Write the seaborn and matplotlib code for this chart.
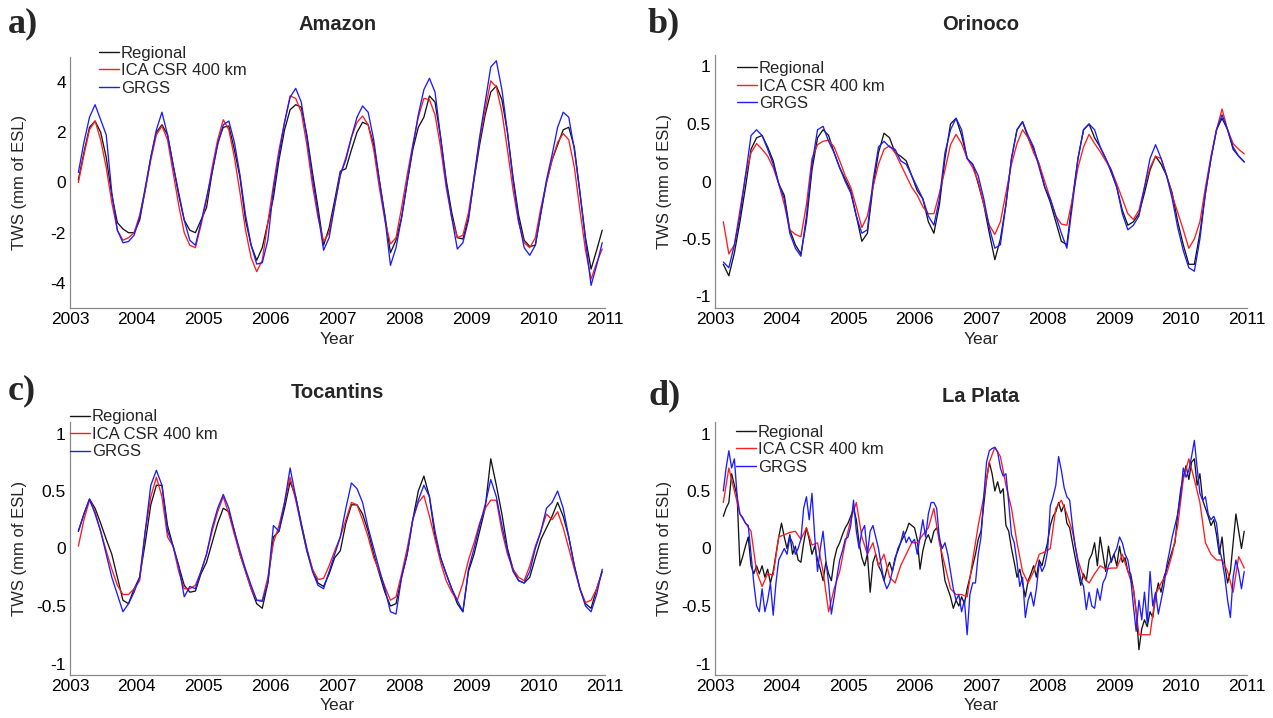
import numpy as np
import pandas as pd
import matplotlib
matplotlib.use("Agg")
import matplotlib.pyplot as plt
import seaborn as sns

# ---------------- data (monthly: Feb 2003 .. Dec 2010) ----------------
amazon_regional = [
    0.1, 1.2, 2.2, 2.45, 2.0, 1.0, -0.5, -1.6, -1.85, -2.0, -2.0,
    -1.5, -0.3, 1.0, 2.0, 2.3, 1.9, 0.7, -0.5, -1.5, -1.9, -2.0, -1.5,
    -1.0, 0.4, 1.6, 2.2, 2.25, 1.3, 0.2, -1.5, -2.5, -3.1, -2.6, -1.6,
    -0.6, 0.9, 2.1, 2.9, 3.1, 3.0, 1.9, 0.4, -1.0, -2.5, -1.8, -0.7,
    0.45, 0.55, 1.3, 2.0, 2.4, 2.3, 1.5, 0.1, -1.3, -2.8, -2.3, -1.4,
    0.0, 1.3, 2.2, 2.6, 3.45, 3.2, 1.8, 0.1, -1.2, -2.2, -2.25, -1.4,
    0.1, 1.5, 2.7, 3.6, 3.85, 3.3, 2.0, 0.2, -1.3, -2.3, -2.55, -2.5,
    -1.2, 0.0, 0.9, 1.5, 2.1, 2.2, 1.4, -0.4, -2.2, -3.45, -2.7, -1.9]
amazon_ica = [
    0.0, 1.1, 2.1, 2.45, 1.7, 0.6, -0.8, -1.9, -2.3, -2.2, -2.0,
    -1.3, -0.3, 0.9, 1.9, 2.25, 1.7, 0.4, -0.9, -2.0, -2.5, -2.6, -1.7,
    -0.7, 0.6, 1.7, 2.5, 2.1, 1.0, -0.4, -1.9, -3.0, -3.55, -3.1, -1.6,
    -0.1, 1.3, 2.4, 3.45, 3.35, 2.8, 1.5, -0.1, -1.4, -2.35, -2.0, -0.9,
    0.3, 1.0, 1.8, 2.4, 2.65, 2.3, 1.3, -0.2, -1.5, -2.45, -2.2, -1.0,
    0.3, 1.5, 2.6, 3.35, 3.3, 2.7, 1.4, -0.2, -1.4, -2.2, -2.1, -1.2,
    0.2, 1.7, 2.9, 4.05, 3.8, 2.8, 1.3, -0.3, -1.6, -2.4, -2.6, -2.2,
    -1.0, 0.0, 0.9, 1.6, 1.95, 1.7, 0.6, -1.1, -2.7, -3.85, -3.2, -2.65]
amazon_grgs = [
    0.4, 1.6, 2.6, 3.1, 2.5, 1.9, -0.4, -1.9, -2.4, -2.35, -2.1,
    -1.4, -0.2, 1.0, 2.1, 2.8, 1.9, 0.7, -0.4, -1.5, -2.3, -2.5, -1.6,
    -0.6, 0.4, 1.5, 2.3, 2.45, 1.6, 0.3, -1.3, -2.5, -3.25, -3.2, -2.3,
    -0.3, 1.1, 2.4, 3.4, 3.75, 3.2, 1.8, 0.2, -1.2, -2.7, -2.2, -0.9,
    0.3, 0.9, 1.8, 2.6, 3.05, 2.8, 1.7, 0.1, -1.4, -3.3, -2.6, -1.4,
    0.0, 1.4, 2.7, 3.7, 4.15, 3.6, 1.8, 0.0, -1.4, -2.65, -2.4, -1.5,
    0.2, 1.8, 3.2, 4.6, 4.85, 3.7, 2.0, 0.1, -1.5, -2.6, -2.9, -2.5,
    -1.2, 0.1, 1.1, 2.2, 2.8, 2.6, 1.3, -0.4, -2.3, -4.1, -3.3, -2.4]

orinoco_regional = [
    -0.72, -0.82, -0.62, -0.35, -0.05, 0.28, 0.38, 0.40, 0.30, 0.18, -0.02,
    -0.12, -0.42, -0.55, -0.63, -0.35, 0.10, 0.38, 0.45, 0.40, 0.25, 0.12, 0.02,
    -0.08, -0.30, -0.52, -0.45, -0.05, 0.25, 0.42, 0.38, 0.25, 0.22, 0.18, 0.05,
    -0.08, -0.15, -0.35, -0.45, -0.20, 0.20, 0.50, 0.55, 0.40, 0.20, 0.15, -0.02,
    -0.20, -0.45, -0.68, -0.50, -0.20, 0.20, 0.45, 0.52, 0.38, 0.28, 0.15, -0.05,
    -0.18, -0.35, -0.52, -0.55, -0.15, 0.20, 0.45, 0.50, 0.38, 0.30, 0.20, 0.08,
    -0.05, -0.25, -0.38, -0.35, -0.28, -0.10, 0.10, 0.22, 0.15, 0.05, -0.10, -0.35,
    -0.55, -0.72, -0.72, -0.45, -0.10, 0.20, 0.45, 0.55, 0.45, 0.28, 0.22, 0.17]
orinoco_ica = [
    -0.35, -0.63, -0.55, -0.25, 0.05, 0.25, 0.33, 0.28, 0.22, 0.12, -0.02,
    -0.20, -0.42, -0.46, -0.48, -0.20, 0.20, 0.32, 0.35, 0.36, 0.30, 0.18, 0.05,
    -0.05, -0.22, -0.40, -0.30, -0.05, 0.15, 0.28, 0.31, 0.25, 0.15, 0.05, -0.05,
    -0.12, -0.22, -0.28, -0.28, -0.10, 0.10, 0.32, 0.41, 0.33, 0.20, 0.12, 0.00,
    -0.20, -0.38, -0.46, -0.35, -0.10, 0.15, 0.33, 0.45, 0.38, 0.25, 0.15, 0.00,
    -0.15, -0.30, -0.37, -0.38, -0.15, 0.12, 0.30, 0.41, 0.33, 0.26, 0.18, 0.10,
    -0.02, -0.15, -0.28, -0.33, -0.25, -0.05, 0.12, 0.22, 0.20, 0.05, -0.12, -0.27,
    -0.42, -0.58, -0.50, -0.35, -0.05, 0.22, 0.45, 0.63, 0.45, 0.33, 0.28, 0.24]
orinoco_grgs = [
    -0.70, -0.75, -0.55, -0.30, 0.05, 0.40, 0.45, 0.40, 0.28, 0.15, -0.02,
    -0.15, -0.45, -0.58, -0.65, -0.30, 0.15, 0.45, 0.48, 0.35, 0.25, 0.12, 0.00,
    -0.10, -0.30, -0.45, -0.42, 0.00, 0.30, 0.35, 0.30, 0.28, 0.18, 0.15, 0.05,
    -0.05, -0.15, -0.30, -0.38, -0.15, 0.25, 0.45, 0.55, 0.45, 0.20, 0.15, 0.05,
    -0.15, -0.40, -0.58, -0.55, -0.20, 0.20, 0.45, 0.52, 0.40, 0.30, 0.12, -0.05,
    -0.15, -0.30, -0.45, -0.58, -0.20, 0.20, 0.45, 0.50, 0.45, 0.30, 0.20, 0.10,
    -0.05, -0.28, -0.42, -0.38, -0.30, -0.05, 0.20, 0.32, 0.20, 0.05, -0.15, -0.40,
    -0.60, -0.75, -0.78, -0.50, -0.10, 0.20, 0.45, 0.58, 0.45, 0.30, 0.22, 0.17]

tocantins_regional = [
    0.15, 0.30, 0.43, 0.35, 0.22, 0.08, -0.05, -0.25, -0.45, -0.48, -0.35,
    -0.25, 0.05, 0.38, 0.55, 0.55, 0.20, 0.02, -0.15, -0.32, -0.38, -0.37, -0.22,
    -0.12, 0.05, 0.22, 0.35, 0.32, 0.15, -0.05, -0.20, -0.35, -0.48, -0.52, -0.30,
    0.10, 0.15, 0.35, 0.58, 0.45, 0.22, 0.00, -0.18, -0.30, -0.33, -0.22, -0.08,
    -0.02, 0.22, 0.38, 0.38, 0.30, 0.15, -0.05, -0.22, -0.38, -0.50, -0.48, -0.25,
    -0.05, 0.25, 0.50, 0.63, 0.45, 0.10, -0.08, -0.22, -0.35, -0.48, -0.55, -0.20,
    -0.05, 0.15, 0.35, 0.78, 0.55, 0.30, 0.00, -0.18, -0.28, -0.30, -0.25, -0.08,
    0.08, 0.18, 0.28, 0.40, 0.28, 0.10, -0.15, -0.35, -0.48, -0.52, -0.35, -0.20]
tocantins_ica = [
    0.02, 0.25, 0.42, 0.32, 0.15, -0.02, -0.18, -0.32, -0.40, -0.40, -0.35,
    -0.28, 0.15, 0.45, 0.62, 0.45, 0.10, 0.02, -0.20, -0.35, -0.35, -0.32, -0.20,
    -0.05, 0.15, 0.32, 0.45, 0.30, 0.12, -0.05, -0.20, -0.35, -0.45, -0.45, -0.25,
    0.05, 0.20, 0.40, 0.62, 0.42, 0.20, -0.02, -0.18, -0.27, -0.26, -0.15, -0.02,
    0.10, 0.25, 0.40, 0.38, 0.25, 0.10, -0.08, -0.20, -0.33, -0.45, -0.42, -0.22,
    0.00, 0.25, 0.40, 0.46, 0.28, 0.08, -0.12, -0.28, -0.38, -0.45, -0.30, -0.10,
    0.05, 0.22, 0.35, 0.42, 0.42, 0.15, -0.05, -0.18, -0.25, -0.28, -0.15, 0.02,
    0.15, 0.30, 0.25, 0.32, 0.18, 0.00, -0.18, -0.35, -0.47, -0.45, -0.35, -0.20]
tocantins_grgs = [
    0.15, 0.30, 0.43, 0.30, 0.15, -0.05, -0.25, -0.40, -0.55, -0.48, -0.38,
    -0.25, 0.15, 0.55, 0.68, 0.55, 0.15, 0.02, -0.15, -0.42, -0.33, -0.35, -0.20,
    -0.05, 0.18, 0.35, 0.47, 0.35, 0.15, -0.02, -0.18, -0.32, -0.45, -0.46, -0.30,
    0.20, 0.15, 0.40, 0.70, 0.45, 0.20, -0.02, -0.20, -0.32, -0.35, -0.20, -0.05,
    0.10, 0.35, 0.57, 0.52, 0.40, 0.18, 0.00, -0.18, -0.35, -0.55, -0.57, -0.25,
    -0.05, 0.25, 0.42, 0.55, 0.45, 0.15, -0.08, -0.22, -0.35, -0.45, -0.55, -0.18,
    0.00, 0.20, 0.38, 0.60, 0.45, 0.20, -0.02, -0.20, -0.28, -0.30, -0.20, 0.00,
    0.15, 0.35, 0.40, 0.50, 0.35, 0.10, -0.15, -0.35, -0.50, -0.55, -0.40, -0.18]

laplata_ica = [
    0.40, 0.70, 0.50, 0.30, 0.22, 0.15, -0.20, -0.33, -0.22, -0.23, 0.10,
    0.12, 0.14, 0.15, 0.08, 0.18, 0.03, 0.05, -0.20, -0.55, -0.35, -0.20, 0.05,
    0.25, 0.40, 0.10, -0.05, 0.05, -0.15, -0.05, -0.25, -0.30, -0.15, -0.05, 0.05,
    0.05, 0.12, 0.18, 0.35, 0.05, -0.15, -0.35, -0.40, -0.40, -0.42, -0.10, 0.20,
    0.45, 0.75, 0.88, 0.80, 0.55, 0.35, 0.05, -0.20, -0.30, -0.20, -0.05, -0.03,
    0.00, 0.35, 0.42, 0.30, 0.15, -0.10, -0.25, -0.30, -0.22, -0.15, -0.18, -0.17,
    -0.17, -0.05, -0.20, -0.35, -0.75, -0.75, -0.75, -0.40, -0.30, -0.22, -0.05, 0.20,
    0.60, 0.78, 0.60, 0.40, 0.05, -0.05, -0.10, -0.10, -0.20, -0.38, -0.07, -0.17]

# half-monthly (mid-Feb 2003 .. Dec 2010)
laplata_regional = [
    0.28, 0.35, 0.40, 0.65, 0.55, 0.45, -0.15, -0.07, 0.02, 0.10, -0.15, -0.22, -0.15, -0.22, -0.15, -0.25, -0.18, -0.30, -0.20, -0.05, 0.10,
    0.22, 0.10, 0.00, 0.12, -0.05, 0.02, -0.10, -0.12, 0.05, 0.18, 0.08, -0.05, 0.02, -0.10, -0.18, -0.28, -0.12, -0.22, -0.28, -0.10, 0.00, 0.05, 0.12, 0.18,
    0.22, 0.28, 0.35, 0.25, 0.05, -0.08, -0.15, -0.05, -0.38, -0.12, -0.05, -0.15, -0.20, -0.28, -0.18, -0.12, -0.20, -0.08, -0.02, 0.05, 0.10, 0.15, 0.22, 0.20,
    0.18, 0.08, -0.18, -0.02, 0.08, 0.12, 0.05, 0.15, 0.18, 0.10, -0.10, -0.28, -0.35, -0.42, -0.52, -0.45, -0.50, -0.42, -0.48, -0.35, -0.25, -0.15, -0.05, 0.08,
    0.15, 0.38, 0.60, 0.75, 0.65, 0.50, 0.58, 0.48, 0.52, 0.20, 0.15, 0.00, -0.12, -0.25, -0.18, -0.30, -0.42, -0.28, -0.22, -0.15, -0.25, -0.10, -0.15, -0.05,
    0.05, 0.20, 0.28, 0.32, 0.40, 0.32, 0.38, 0.22, 0.18, 0.05, -0.08, -0.20, -0.32, -0.22, -0.28, -0.10, -0.05, 0.05, -0.15, 0.10, -0.05, -0.20, 0.02, -0.12,
    -0.05, -0.15, 0.02, -0.12, -0.08, -0.20, -0.22, -0.35, -0.55, -0.88, -0.70, -0.62, -0.68, -0.55, -0.60, -0.42, -0.30, -0.38, -0.25, -0.18, -0.10, -0.02, 0.05, 0.30,
    0.50, 0.62, 0.72, 0.60, 0.75, 0.78, 0.55, 0.65, 0.42, 0.35, 0.28, 0.20, 0.25, 0.12, -0.05, 0.10, -0.15, -0.30, -0.20, 0.05, 0.30, 0.15, 0.00, 0.15]
laplata_grgs = [
    0.50, 0.70, 0.85, 0.70, 0.78, 0.45, 0.30, 0.27, 0.22, 0.20, -0.05, -0.30, -0.50, -0.55, -0.35, -0.55, -0.45, -0.30, -0.58, -0.30, -0.10,
    -0.05, 0.00, -0.05, 0.10, 0.05, -0.05, 0.00, 0.08, 0.35, 0.45, 0.25, 0.48, 0.10, -0.20, 0.00, 0.15, -0.10, -0.30, -0.57, -0.42, -0.25, -0.10, -0.02, 0.08,
    0.10, 0.20, 0.42, 0.15, 0.00, 0.15, 0.20, -0.05, 0.15, 0.20, 0.10, 0.00, -0.15, -0.28, -0.35, -0.30, -0.20, -0.10, 0.00, 0.05, 0.15, 0.05, 0.10, 0.05,
    0.08, -0.05, 0.10, 0.25, 0.10, 0.30, 0.40, 0.40, 0.35, 0.08, 0.00, 0.05, -0.05, -0.20, -0.35, -0.45, -0.40, -0.55, -0.45, -0.75, -0.40, -0.30, -0.30, -0.05,
    0.10, 0.45, 0.75, 0.85, 0.87, 0.88, 0.84, 0.70, 0.63, 0.65, 0.40, 0.12, 0.05, -0.12, -0.33, -0.25, -0.60, -0.45, -0.38, -0.50, -0.35, -0.12, -0.20, -0.15,
    -0.03, 0.37, 0.45, 0.55, 0.80, 0.68, 0.53, 0.45, 0.42, 0.20, 0.02, -0.12, -0.27, -0.33, -0.53, -0.38, -0.50, -0.52, -0.35, -0.45, -0.30, -0.25, -0.15, -0.10,
    -0.05, 0.00, 0.10, 0.05, -0.05, -0.10, -0.25, -0.50, -0.72, -0.45, -0.62, -0.38, -0.65, -0.20, -0.50, -0.38, -0.57, -0.45, -0.33, -0.15, -0.03, 0.10, 0.20, 0.30,
    0.45, 0.70, 0.62, 0.68, 0.80, 0.94, 0.70, 0.48, 0.42, 0.45, 0.30, 0.25, 0.28, 0.22, 0.00, -0.10, -0.25, -0.45, -0.60, -0.25, -0.10, -0.20, -0.35, -0.20]

basins = ["Amazon", "Orinoco", "Tocantins", "La Plata"]
panel_letters = ["a)", "b)", "c)", "d)"]
series_names = ["Regional", "ICA CSR 400 km", "GRGS"]
year_ticks = [2003, 2004, 2005, 2006, 2007, 2008, 2009, 2010, 2011]
ylabel_text = "TWS (mm of ESL)"
xlabel_text = "Year"


def monthly_time(n):
    # mid-month, starting February 2003
    return 2003.0 + (np.arange(n) + 1.5) / 12.0


def halfmonth_time(n):
    return 2003.125 + np.arange(n) / 24.0


def make_df(vals, timefn, name):
    return pd.DataFrame({"t": timefn(len(vals)), "v": vals, "series": name})


data = {
    "Amazon": [make_df(amazon_regional, monthly_time, series_names[0]),
               make_df(amazon_ica, monthly_time, series_names[1]),
               make_df(amazon_grgs, monthly_time, series_names[2])],
    "Orinoco": [make_df(orinoco_regional, monthly_time, series_names[0]),
                make_df(orinoco_ica, monthly_time, series_names[1]),
                make_df(orinoco_grgs, monthly_time, series_names[2])],
    "Tocantins": [make_df(tocantins_regional, monthly_time, series_names[0]),
                  make_df(tocantins_ica, monthly_time, series_names[1]),
                  make_df(tocantins_grgs, monthly_time, series_names[2])],
    "La Plata": [make_df(laplata_regional, halfmonth_time, series_names[0]),
                 make_df(laplata_ica, monthly_time, series_names[1]),
                 make_df(laplata_grgs, halfmonth_time, series_names[2])],
}

# ---------------- styling ----------------
sns.set_style("white")
plt.rcParams["font.family"] = ["Liberation Sans", "DejaVu Sans"]
plt.rcParams["axes.unicode_minus"] = False

colors = ["#151515", "#ff1c1c", "#1c1cff"]
W, H = 1273, 718
fig = plt.figure(figsize=(W / 100, H / 100), dpi=100)


def px_axes(x0, x1, ytop, ybot):
    return fig.add_axes([x0 / W, 1 - ybot / H, (x1 - x0) / W, (ybot - ytop) / H])


axes_px = [(70, 605, 57, 308), (715, 1247, 55, 308),
           (70, 605, 422, 675), (715, 1247, 422, 675)]
ylims = [(-5, 5), (-1.1, 1.1), (-1.1, 1.1), (-1.1, 1.1)]
yticks = [[-4, -2, 0, 2, 4], [-1, -0.5, 0, 0.5, 1], [-1, -0.5, 0, 0.5, 1], [-1, -0.5, 0, 0.5, 1]]
legend_anchor = [(0.055, 1.045), (0.042, 0.975), (0.0, 1.05), (0.040, 0.99)]
title_y = [25, 25, 392, 397]
letter_pos = [(8, 24), (648, 24), (8, 391), (648, 396)]
xlabel_center = [340, 340, 705, 705]

for k, basin in enumerate(basins):
    x0, x1, yt, yb = axes_px[k]
    ax = px_axes(x0, x1, yt, yb)
    for df, c in zip(data[basin], colors):
        sns.lineplot(data=df, x="t", y="v", ax=ax, color=c, linewidth=0.95,
                     label=df["series"].iloc[0], estimator=None, sort=False)
    ax.set_xlim(2003, 2011)
    ax.set_ylim(*ylims[k])
    ax.set_xticks(year_ticks)
    ax.set_xticklabels([str(y) for y in year_ticks])
    ax.set_yticks(yticks[k])
    ax.set_yticklabels([("%g" % v) for v in yticks[k]])
    for s in ["top", "right"]:
        ax.spines[s].set_visible(False)
    for s in ["left", "bottom"]:
        ax.spines[s].set_color("#8a8a8a")
        ax.spines[s].set_linewidth(0.9)
    ax.tick_params(direction="in", length=4, width=0.8, color="#8a8a8a",
                   labelsize=12.5, labelcolor="#000000", pad=3)
    ax.set_xlabel(xlabel_text, fontsize=12.5)
    ax.set_ylabel(ylabel_text, fontsize=12)
    ax.xaxis.label.set_va("center")
    ax.yaxis.label.set_va("center")
    ax.xaxis.set_label_coords(0.5, -(xlabel_center[k] - yb) / (yb - yt))
    ax.yaxis.set_label_coords(-50 / (x1 - x0), 0.5)
    leg = ax.legend(loc="upper left", bbox_to_anchor=legend_anchor[k], frameon=False,
                    fontsize=12, handlelength=1.2, handletextpad=0.1,
                    labelspacing=0.15, borderpad=0, borderaxespad=0)
    for line in leg.get_lines():
        line.set_linewidth(1.0)
    fig.text((x0 + x1) / 2 / W, 1 - title_y[k] / H, basin, ha="center", va="center",
             fontsize=14.5, fontweight="bold")
    lx, ly = letter_pos[k]
    fig.text(lx / W, 1 - ly / H, panel_letters[k], ha="left", va="center",
             fontsize=26, fontweight="bold", family=["Liberation Serif", "DejaVu Serif"])

fig.savefig("out.png", dpi=100)
